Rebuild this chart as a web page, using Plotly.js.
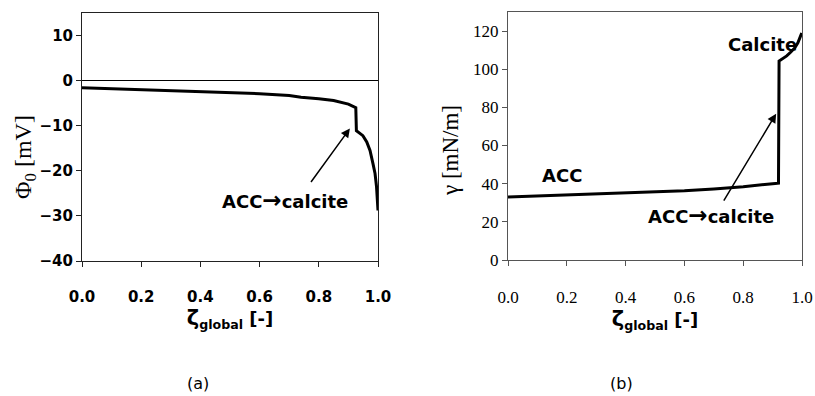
<!DOCTYPE html>
<html>
<head>
<meta charset="utf-8">
<script src="https://cdn.plot.ly/plotly-3.0.1.min.js"></script>
<style>html,body{margin:0;padding:0;background:#fff;}#chart{width:815px;height:396px;}</style>
</head>
<body>
<div id="chart"></div>
<script>
// Panel (a): surface potential vs global conversion
var zetaA = [0, 0.1, 0.2, 0.3, 0.4, 0.5, 0.6, 0.7, 0.74, 0.8, 0.85, 0.9, 0.925, 0.927, 0.949, 0.962, 0.973, 0.983, 0.99, 0.995, 0.998, 1.0];
var phiA  = [-1.6, -1.8, -2.0, -2.2, -2.4, -2.6, -2.9, -3.3, -3.7, -4.0, -4.4, -5.2, -6.0, -11.1, -12.2, -13.6, -15.5, -18.4, -20.6, -23.5, -26.5, -28.8];

// Panel (b): surface tension vs global conversion
var zetaB  = [0, 0.1, 0.2, 0.3, 0.4, 0.5, 0.6, 0.7, 0.8, 0.9, 0.92, 0.922, 0.935, 0.948, 0.962, 0.976, 0.986, 0.993, 0.999];
var gammaB = [33, 33.5, 34, 34.5, 35, 35.6, 36.3, 37.2, 38.4, 40.0, 40.3, 104.3, 105.5, 107, 109, 111.3, 113.8, 116.5, 119];

var xTicks = [0, 0.2, 0.4, 0.6, 0.8, 1.0];
var xTickText = ['0.0', '0.2', '0.4', '0.6', '0.8', '1.0'];
var yTicksA = [-40, -30, -20, -10, 0, 10];
var yTicksB = [0, 20, 40, 60, 80, 100, 120];

var boldSans = 'DejaVu Sans';
var serif = 'Liberation Serif, Times New Roman, serif';
var arrowLabel = 'ACC<span style="font-size:23px">→</span>calcite';

var traces = [
  {x: zetaA, y: phiA, xaxis: 'x', yaxis: 'y', mode: 'lines', line: {color: '#000', width: 3}, hoverinfo: 'skip'},
  {x: zetaB, y: gammaB, xaxis: 'x2', yaxis: 'y2', mode: 'lines', line: {color: '#000', width: 3}, hoverinfo: 'skip'}
];

var layout = {
  width: 815, height: 396,
  margin: {l: 0, r: 0, t: 0, b: 0},
  paper_bgcolor: '#fff', plot_bgcolor: '#fff',
  showlegend: false,
  xaxis: {
    domain: [82/815, 378/815], anchor: 'y', range: [0, 1],
    tickvals: xTicks, ticktext: xTickText,
    ticks: 'outside', ticklen: 5, tickcolor: '#222', tickwidth: 1,
    showline: true, linecolor: '#222', linewidth: 1, mirror: true,
    showgrid: false, zeroline: false,
    ticklabelstandoff: 17,
    tickfont: {family: boldSans, size: 15, color: '#000', weight: 'bold'},
    title: {text: '<span style="font-size:21px">ζ</span><sub>global</sub> [-]', font: {family: boldSans, size: 18, color: '#000', weight: 'bold'}, standoff: 6}
  },
  yaxis: {
    domain: [135/396, 383/396], anchor: 'x', range: [-40, 15],
    tickvals: yTicksA,
    ticks: 'outside', ticklen: 5, tickcolor: '#222', tickwidth: 1,
    showline: true, linecolor: '#222', linewidth: 1, mirror: true,
    showgrid: false, zeroline: true, zerolinecolor: '#000', zerolinewidth: 1,
    tickfont: {family: boldSans, size: 15, color: '#000', weight: 'bold'}
  },
  xaxis2: {
    domain: [508/815, 802/815], anchor: 'y2', range: [0, 1],
    tickvals: xTicks, ticktext: xTickText,
    ticks: 'outside', ticklen: 5, tickcolor: '#555', tickwidth: 1,
    showline: true, linecolor: '#555', linewidth: 1, mirror: true,
    showgrid: false, zeroline: false,
    ticklabelstandoff: 17,
    tickfont: {family: serif, size: 17, color: '#000'},
    title: {text: '<span style="font-size:21px">ζ</span><sub>global</sub> [-]', font: {family: boldSans, size: 18, color: '#000', weight: 'bold'}, standoff: 6}
  },
  yaxis2: {
    domain: [136/396, 384/396], anchor: 'x2', range: [0, 130],
    tickvals: yTicksB,
    ticks: 'outside', ticklen: 5, tickcolor: '#555', tickwidth: 1,
    showline: true, linecolor: '#555', linewidth: 1, mirror: true,
    showgrid: false, zeroline: false,
    tickfont: {family: serif, size: 17, color: '#000'}
  },
  annotations: [
    {xref: 'paper', yref: 'paper', x: 25/815, y: 1 - 157/396, xanchor: 'center', yanchor: 'middle',
     text: 'Φ<sub>0</sub> [mV]', textangle: -90, showarrow: false,
     font: {family: serif, size: 24, color: '#000'}},
    {xref: 'paper', yref: 'paper', x: 451/815, y: 1 - 151/396, xanchor: 'center', yanchor: 'middle',
     text: 'γ [mN/m]', textangle: -90, showarrow: false,
     font: {family: serif, size: 23, color: '#000'}},
    {xref: 'x', yref: 'y', x: 0.905, y: -10.6, axref: 'x', ayref: 'y', ax: 0.77, ay: -22.8,
     showarrow: true, arrowhead: 2, arrowsize: 1.2, arrowwidth: 1.5, arrowcolor: '#000', text: ''},
    {xref: 'x', yref: 'y', x: 0.686, y: -26.5, text: arrowLabel, showarrow: false,
     font: {family: boldSans, size: 18, color: '#000', weight: 'bold'}},
    {xref: 'x2', yref: 'y2', x: 0.912, y: 76.7, axref: 'x2', ayref: 'y2', ax: 0.731, ay: 30.3,
     showarrow: true, arrowhead: 2, arrowsize: 1.2, arrowwidth: 1.5, arrowcolor: '#000', text: ''},
    {xref: 'x2', yref: 'y2', x: 0.69, y: 23.5, text: arrowLabel, showarrow: false,
     font: {family: boldSans, size: 18, color: '#000', weight: 'bold'}},
    {xref: 'x2', yref: 'y2', x: 0.184, y: 44.3, text: 'ACC', showarrow: false,
     font: {family: boldSans, size: 18, color: '#000', weight: 'bold'}},
    {xref: 'x2', yref: 'y2', x: 0.864, y: 113.2, text: 'Calcite', showarrow: false,
     font: {family: boldSans, size: 18, color: '#000', weight: 'bold'}},
    {xref: 'paper', yref: 'paper', x: 198/815, y: 1 - 383/396, xanchor: 'center', yanchor: 'middle',
     text: '(a)', showarrow: false, font: {family: 'DejaVu Sans', size: 16, color: '#000'}},
    {xref: 'paper', yref: 'paper', x: 621/815, y: 1 - 383/396, xanchor: 'center', yanchor: 'middle',
     text: '(b)', showarrow: false, font: {family: 'DejaVu Sans', size: 16, color: '#000'}}
  ]
};

Plotly.newPlot('chart', traces, layout, {staticPlot: true, displayModeBar: false});
</script>
</body>
</html>
